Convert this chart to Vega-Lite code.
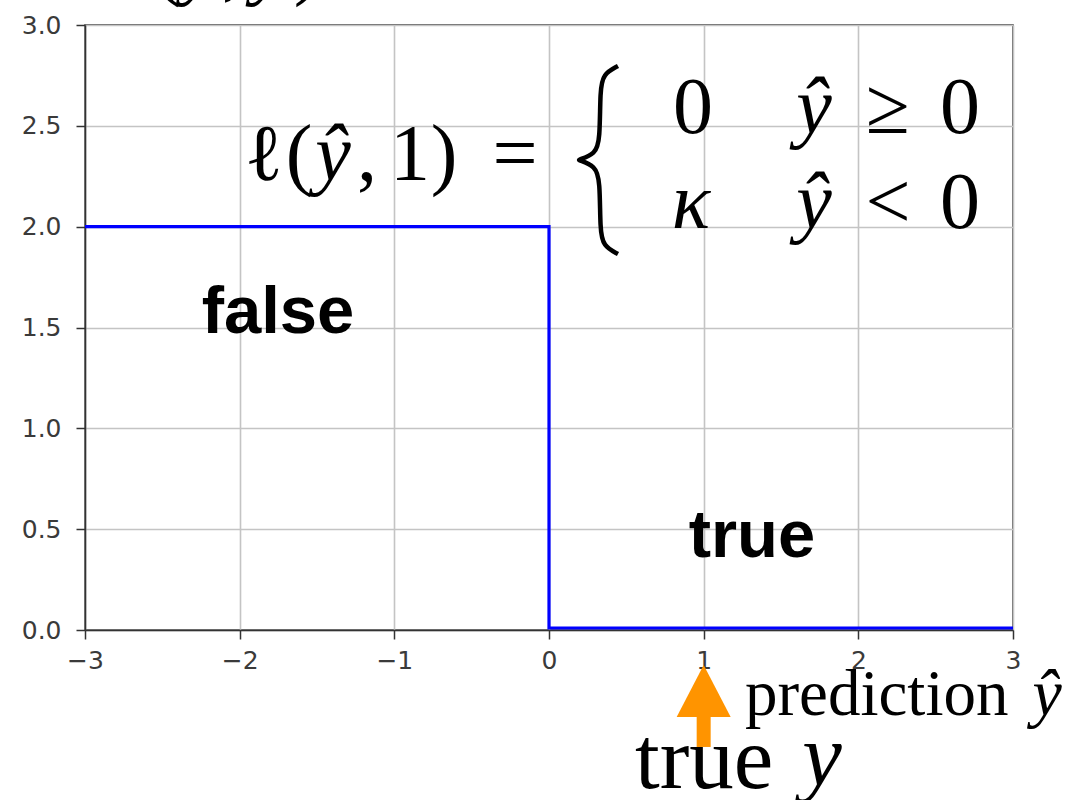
{
  "$schema": "https://vega.github.io/schema/vega-lite/v6.json",
  "width": 928,
  "height": 605,
  "autosize": {"type": "none"},
  "padding": {"left": 85, "top": 25, "right": 57, "bottom": 170},
  "background": "white",
  "config": {
    "view": {"stroke": "#333333", "strokeWidth": 1.5},
    "axis": {
      "title": null,
      "grid": true,
      "gridColor": "#c4c4c4",
      "gridWidth": 1.6,
      "domainColor": "#333333",
      "domainWidth": 1.5,
      "tickColor": "#333333",
      "tickWidth": 1.5,
      "tickSize": 9,
      "labelFont": "DejaVu Sans",
      "labelFontSize": 25,
      "labelColor": "#3a3a3a",
      "labelOverlap": false,
      "labelFlush": false
    }
  },
  "encoding": {
    "x": {
      "field": "x",
      "type": "quantitative",
      "scale": {"domain": [-3, 3], "nice": false, "zero": false},
      "axis": {"values": [-3, -2, -1, 0, 1, 2, 3], "format": "d", "labelPadding": 9}
    },
    "y": {
      "field": "y",
      "type": "quantitative",
      "scale": {"domain": [0, 3], "nice": false, "zero": false},
      "axis": {"values": [0, 0.5, 1, 1.5, 2, 2.5, 3], "format": ".1f", "labelPadding": 15}
    }
  },
  "layer": [
    {
      "data": {"values": [
        {"i": 0, "x": -3, "y": 2},
        {"i": 1, "x": 0, "y": 2},
        {"i": 2, "x": 0, "y": 0.01},
        {"i": 3, "x": 3, "y": 0.01}
      ]},
      "mark": {"type": "line", "color": "#0000ff", "strokeWidth": 3.2, "interpolate": "linear"},
      "encoding": {"order": {"field": "i", "type": "quantitative"}}
    },
    {
      "data": {"values": [
        {"i": 0, "x": 0.446, "y": 2.797},
        {"i": 1, "x": 0.350, "y": 2.757},
        {"i": 2, "x": 0.330, "y": 2.678},
        {"i": 3, "x": 0.330, "y": 2.430},
        {"i": 4, "x": 0.300, "y": 2.360},
        {"i": 5, "x": 0.190, "y": 2.331},
        {"i": 6, "x": 0.190, "y": 2.331},
        {"i": 7, "x": 0.300, "y": 2.301},
        {"i": 8, "x": 0.330, "y": 2.231},
        {"i": 9, "x": 0.330, "y": 1.983},
        {"i": 10, "x": 0.350, "y": 1.904},
        {"i": 11, "x": 0.446, "y": 1.864}
      ]},
      "mark": {"type": "line", "color": "#000000", "strokeWidth": 4.5, "interpolate": "basis"},
      "encoding": {"order": {"field": "i", "type": "quantitative"}}
    },
    {
      "data": {"values": [{"x": 1, "y": -0.426, "y2": -0.58}]},
      "mark": {"type": "rule", "color": "#ff9400", "strokeWidth": 14, "strokeCap": "butt"},
      "encoding": {"y2": {"field": "y2"}}
    },
    {
      "data": {"values": [{"x": 1, "y": -0.3025}]},
      "mark": {"type": "point", "shape": "M0,-0.96L1,0.96L-1,0.96Z", "size": 2916, "filled": true, "color": "#ff9400", "opacity": 1, "strokeWidth": 0}
    },
    {
      "data": {"values": [
        {"x": -1.752, "y": 1.473, "t": "false"},
        {"x": 1.312, "y": 0.362, "t": "true"}
      ]},
      "mark": {"type": "text", "font": "Liberation Sans", "fontWeight": "bold", "fontSize": 67, "align": "center", "baseline": "alphabetic", "color": "#000000"},
      "encoding": {"text": {"field": "t", "type": "nominal"}}
    },
    {
      "data": {"values": [
        {"x": -1.843, "y": 2.231, "t": "ℓ"},
        {"x": -1.616, "y": 2.231, "t": "("},
        {"x": -1.177, "y": 2.231, "t": ","},
        {"x": -0.899, "y": 2.231, "t": "1"},
        {"x": -0.679, "y": 2.231, "t": ")"},
        {"x": -0.220, "y": 2.231, "t": "="},
        {"x": 0.931, "y": 2.464, "t": "0"},
        {"x": 2.192, "y": 2.464, "t": "≥"},
        {"x": 2.657, "y": 2.464, "t": "0"},
        {"x": 2.192, "y": 1.993, "t": "<"},
        {"x": 2.657, "y": 1.993, "t": "0"},
        {"x": -2.644, "y": 3.172, "t": "ℓ"},
        {"x": -2.470, "y": 3.172, "t": "("},
        {"x": -2.050, "y": 3.172, "t": ","},
        {"x": -1.565, "y": 3.172, "t": ")"}
      ]},
      "mark": {"type": "text", "font": "Liberation Serif", "fontSize": 80, "align": "center", "baseline": "alphabetic", "color": "#000000"},
      "encoding": {"text": {"field": "t", "type": "nominal"}}
    },
    {
      "data": {"values": [
        {"x": -1.397, "y": 2.231, "t": "ŷ"},
        {"x": 1.713, "y": 2.464, "t": "ŷ"},
        {"x": 1.713, "y": 1.993, "t": "ŷ"},
        {"x": 0.918, "y": 1.993, "t": "κ"},
        {"x": -2.256, "y": 3.172, "t": "ŷ"},
        {"x": -1.804, "y": 3.172, "t": "y"}
      ]},
      "mark": {"type": "text", "font": "Liberation Serif", "fontStyle": "italic", "fontSize": 80, "align": "center", "baseline": "alphabetic", "color": "#000000"},
      "encoding": {"text": {"field": "t", "type": "nominal"}}
    },
    {
      "data": {"values": [{"x": 1.267, "y": -0.421, "t": "prediction"}]},
      "mark": {"type": "text", "font": "Liberation Serif", "fontSize": 65, "align": "left", "baseline": "alphabetic", "color": "#000000"},
      "encoding": {"text": {"field": "t", "type": "nominal"}}
    },
    {
      "data": {"values": [{"x": 3.22, "y": -0.421, "t": "ŷ"}]},
      "mark": {"type": "text", "font": "Liberation Serif", "fontStyle": "italic", "fontSize": 66, "align": "center", "baseline": "alphabetic", "color": "#000000"},
      "encoding": {"text": {"field": "t", "type": "nominal"}}
    },
    {
      "data": {"values": [{"x": 0.556, "y": -0.783, "t": "true"}]},
      "mark": {"type": "text", "font": "Liberation Serif", "fontSize": 89, "align": "left", "baseline": "alphabetic", "color": "#000000"},
      "encoding": {"text": {"field": "t", "type": "nominal"}}
    },
    {
      "data": {"values": [{"x": 1.765, "y": -0.77, "t": "y"}]},
      "mark": {"type": "text", "font": "Liberation Serif", "fontStyle": "italic", "fontSize": 89, "align": "center", "baseline": "alphabetic", "color": "#000000"},
      "encoding": {"text": {"field": "t", "type": "nominal"}}
    }
  ]
}
